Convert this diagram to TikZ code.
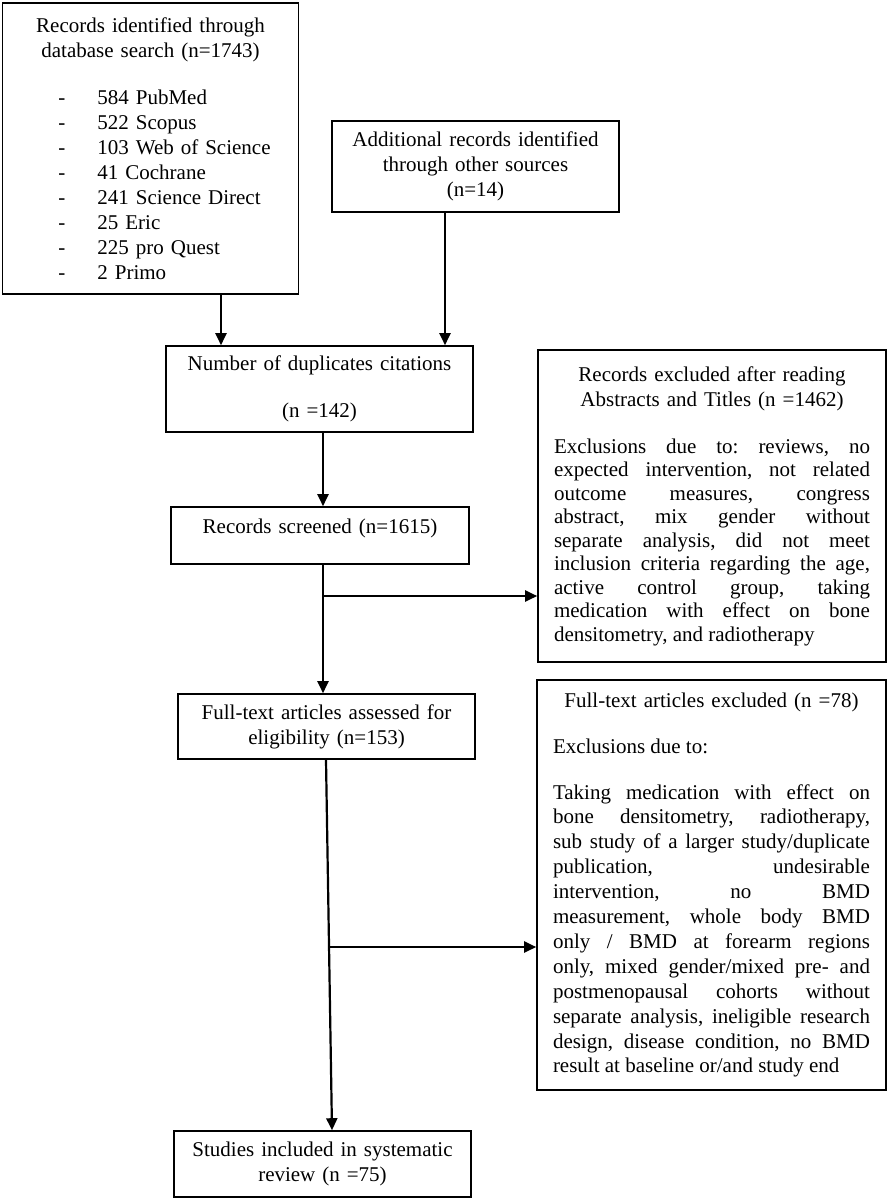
\documentclass[tikz,border=0pt]{standalone}
\usepackage{fontspec}
\setmainfont{Liberation Serif}
\usetikzlibrary{arrows.meta}

\begin{document}
\begin{tikzpicture}[x=0.5pt,y=-0.5pt,
  box/.style={draw,line width=0.8pt,inner xsep=4pt,inner ysep=0pt,align=center,
    font=\fontsize{10.5}{12.5}\selectfont},
  arr/.style={-{Triangle[length=6pt,width=5.5pt]},line width=1.1pt}]
\long\def\just#1#2#3{\parbox[t]{#1}{\leftskip=0pt\rightskip=0pt\parfillskip=0pt plus 1fil
  \spaceskip=.25em plus .5em minus .08em\xspaceskip=\spaceskip
  \frenchspacing\tolerance=10000\hyphenpenalty=10000\exhyphenpenalty=10000
  \baselineskip=#2 #3}}
\useasboundingbox (0,0) rectangle (889,1201);
\node[box,text width=140pt,minimum height=145.5pt,text height=11pt] (A) at (150.5,148.5) {Records identified through\\database search (n=1743)\\[11pt]
\hspace*{14pt}\begin{tabular}[t]{@{}p{19.5pt}@{}l@{}}
-&584 PubMed\\ -&522 Scopus\\ -&103 Web of Science\\ -&41 Cochrane\\
-&241 Science Direct\\ -&25 Eric\\ -&225 pro Quest\\ -&2 Primo
\end{tabular}};
\node[box,text width=135.5pt,minimum height=45.5pt] (B) at (475.5,166.5) {Additional records identified\\through other sources\\(n=14)};
\node[box,text width=145.5pt,minimum height=43pt] (C) at (319.5,389) {Number of duplicates citations\\[11pt](n =142)};
\node[box,text width=141pt,minimum height=28.5pt,text depth=9.5pt] (D) at (320,535.5) {Records screened (n=1615)};
\node[box,text width=158pt,inner xsep=8pt,minimum height=156pt] (E) at (712,506) {Records excluded after reading\\Abstracts and Titles (n =1462)\\[11pt]
\just{158pt}{11.75pt}{Exclusions due to: reviews, no\linebreak
expected intervention, not related\linebreak
outcome measures, congress\linebreak
abstract, mix gender without\linebreak
separate analysis, did not meet\linebreak
inclusion criteria regarding the age,\linebreak
active control group, taking\linebreak
medication with effect on bone\linebreak
densitometry, and radiotherapy}};
\node[box,text width=140.5pt,minimum height=32.5pt] (F) at (326.5,726.5) {Full-text articles assessed for\\eligibility (n=153)};
\node[box,text width=158.5pt,inner xsep=8pt,minimum height=205pt] (G) at (711.5,885) {Full-text articles excluded (n =78)\\[10.5pt]
\just{158.5pt}{12.45pt}{Exclusions due to:\par\vspace{10.5pt}
Taking medication with effect on\linebreak
bone densitometry, radiotherapy,\linebreak
sub study of a larger study/duplicate\linebreak
publication, undesirable\linebreak
intervention, no BMD\linebreak
measurement, whole body BMD\linebreak
only / BMD at forearm regions\linebreak
only, mixed gender/mixed pre- and\linebreak
postmenopausal cohorts without\linebreak
separate analysis, ineligible research\linebreak
design, disease condition, no BMD\linebreak
result at baseline or/and study end}};
\node[box,text width=140.5pt,minimum height=33pt] (H) at (322.5,1164) {Studies included in systematic\\review (n =75)};
\coordinate (xA) at (221,0);
\coordinate (xB) at (445,0);
\coordinate (xC) at (323,0);
\coordinate (xF) at (326,0);
\coordinate (xH) at (332,0);
\coordinate (b1) at (324,596);
\coordinate (b2) at (329.5,947);
\draw[arr] (A.south -| xA) -- (C.north -| xA);
\draw[arr] (B.south -| xB) -- (C.north -| xB);
\draw[arr] (C.south -| xC) -- (D.north -| xC);
\draw[arr] (D.south -| xC) -- (F.north -| xC);
\draw[arr] (F.south -| xF) -- (H.north -| xH);
\draw[arr] (b1) -- (b1 -| E.west);
\draw[arr] (b2) -- (b2 -| G.west);
\end{tikzpicture}
\end{document}
